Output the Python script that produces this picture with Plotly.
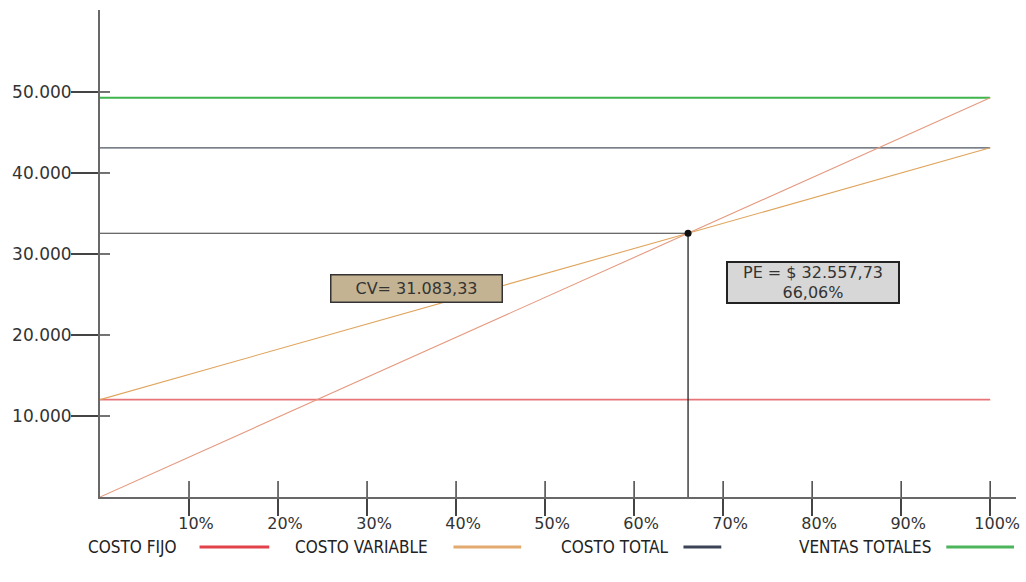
import plotly.graph_objects as go

# Break-even (punto de equilibrio) figures
ventas_totales = 49285.09      # total sales at 100 %
costo_fijo = 12024.20          # fixed cost
costo_variable = 31083.33      # variable cost at 100 %
costo_total = 43107.53         # fixed + variable at 100 %
pe_valor = 32557.73            # break-even sales value
pe_pct = 66.06                 # break-even as % of sales

x_ticks = [10, 20, 30, 40, 50, 60, 70, 80, 90, 100]
x_tick_labels = ["10%", "20%", "30%", "40%", "50%", "60%", "70%", "80%", "90%", "100%"]
y_ticks = [10000, 20000, 30000, 40000, 50000]
y_tick_labels = ["10.000", "20.000", "30.000", "40.000", "50.000"]

legend_names = ["COSTO FIJO", "COSTO VARIABLE", "COSTO TOTAL", "VENTAS TOTALES"]
legend_colors = ["#e2434a", "#e3a96f", "#3b4457", "#4cb55c"]

W, H = 1026, 582
ML, MR, MT, MB = 100, 6, 10, 85
PW, PH = W - ML - MR, H - MT - MB

AXIS = "#686868"
TICK_FONT = dict(family="DejaVu Sans", size=16, color="#333333")

fig = go.Figure()

def seg(x, y, color, width):
    fig.add_trace(go.Scatter(x=x, y=y, mode="lines", showlegend=False,
                             hoverinfo="skip", line=dict(color=color, width=width)))

# Horizontal reference levels
seg([0, 100], [costo_fijo, costo_fijo], "#e87478", 1.6)
seg([0, 100], [costo_total, costo_total], "#4d5560", 1.2)
seg([0, 100], [ventas_totales, ventas_totales], "#3fb54c", 2)
# Total cost line (fixed + variable) and sales line
seg([0, 100], [costo_fijo, costo_fijo + costo_variable], "#dfa45c", 1.1)
seg([0, 100], [0, ventas_totales], "#e59a80", 1.1)
# Break-even guides
seg([0, pe_pct], [pe_valor, pe_valor], "#3a3a3a", 1.2)
seg([pe_pct, pe_pct], [pe_valor, 0], "#222222", 1.3)
fig.add_trace(go.Scatter(x=[pe_pct], y=[pe_valor], mode="markers", showlegend=False,
                         hoverinfo="skip", marker=dict(color="#111111", size=7)))

shapes = []
# Inner part of the tick marks (ticks cross the axes)
for v in y_ticks:
    shapes.append(dict(type="line", xref="x", yref="y", xsizemode="pixel", xanchor=0,
                       x0=0, x1=10, y0=v, y1=v, line=dict(color="#444444", width=1.5)))
for v in x_ticks:
    shapes.append(dict(type="line", xref="x", yref="y", ysizemode="pixel", yanchor=0,
                       x0=v, x1=v, y0=0, y1=16, line=dict(color="#444444", width=1.5)))

annotations = [
    dict(x=35.6, y=25800, xref="x", yref="y", text="CV= 31.083,33", showarrow=False,
         font=dict(family="DejaVu Sans", size=16, color="#333333"),
         bgcolor="#c4b393", bordercolor="#333333", borderwidth=1.5,
         width=168, height=24),
    dict(x=80.1, y=26500, xref="x", yref="y", text="PE = $ 32.557,73<br>66,06%",
         showarrow=False, font=dict(family="DejaVu Sans", size=16, color="#333333"),
         bgcolor="#d7d7d7", bordercolor="#222222", borderwidth=2,
         width=168, height=37),
]

def px_x(px):
    return (px - ML) / PW

def px_y(py):
    return (H - MB - py) / PH

# Legend: label followed by a line sample
legend_text_x = [86, 294, 561, 800]
legend_line_x = [(200, 270), (455, 523), (686, 724), (950, 1018)]
LEG_Y = 547
for name, color, tx, (l0, l1) in zip(legend_names, legend_colors, legend_text_x, legend_line_x):
    annotations.append(dict(x=px_x(tx), y=px_y(LEG_Y), xref="paper", yref="paper",
                            xanchor="left", yanchor="middle", text=name, showarrow=False,
                            font=dict(family="Liberation Sans Narrow, DejaVu Sans Condensed, Liberation Sans",
                                      size=17, color="#222222")))
    shapes.append(dict(type="line", xref="paper", yref="paper",
                       x0=px_x(l0), x1=px_x(l1), y0=px_y(LEG_Y), y1=px_y(LEG_Y),
                       line=dict(color=color, width=3)))

fig.update_layout(
    width=W, height=H,
    margin=dict(l=ML, r=MR, t=MT, b=MB),
    paper_bgcolor="white", plot_bgcolor="white",
    showlegend=False,
    shapes=shapes,
    annotations=annotations,
    xaxis=dict(range=[0, 102.9], tickvals=x_ticks, ticktext=x_tick_labels,
               showgrid=False, zeroline=False, showline=True, linecolor=AXIS, linewidth=2,
               ticks="outside", ticklen=17, tickwidth=1.5, tickcolor="#444444",
               ticklabelshift=7, ticklabelstandoff=-6, tickfont=TICK_FONT, fixedrange=True),
    yaxis=dict(range=[0, 60120], tickvals=y_ticks, ticktext=y_tick_labels,
               showgrid=False, zeroline=False, showline=True, linecolor=AXIS, linewidth=2,
               ticks="outside", ticklen=27, tickwidth=1.5, tickcolor="#444444",
               ticklabelstandoff=-4, tickfont=dict(family="DejaVu Sans", size=17, color="#333333"),
               fixedrange=True),
)

fig.write_html("out.html")
